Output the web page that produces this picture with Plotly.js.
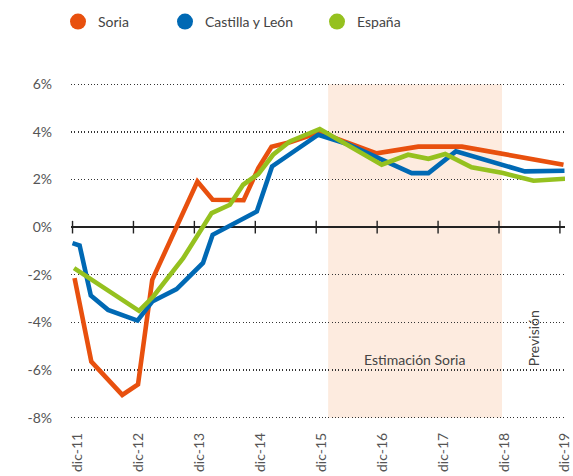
<!DOCTYPE html>
<html><head><meta charset="utf-8">
<script src="https://cdn.plot.ly/plotly-3.0.1.min.js"></script>
<style>html,body{margin:0;padding:0;background:#fff}#chart{width:573px;height:476px}</style>
</head><body><div id="chart"></div>
<script>
// x values are months since December 2011
const xTickVals = [0, 12, 24, 36, 48, 60, 72, 84, 96];
const xTickText = ['dic-11', 'dic-12', 'dic-13', 'dic-14', 'dic-15', 'dic-16', 'dic-17', 'dic-18', 'dic-19'];
const yTickVals = [-8, -6, -4, -2, 0, 2, 4, 6];
const yTickText = ['-8%', '-6%', '-4%', '-2%', '0%', '2%', '4%', '6%'];

const seriesNames = ['Soria', 'Castilla y León', 'España'];
const seriesColors = ['#e8500e', '#0069b4', '#95c11f'];

const soriaX = [0.4, 3.7, 9.8, 12.9, 15.7, 24.6, 27.6, 33.7, 36.6, 39.2, 42.8, 48.7, 59.9, 68.1, 76.7, 96.7];
const soriaY = [-2.14, -5.64, -7.04, -6.6, -2.21, 1.92, 1.15, 1.13, 2.48, 3.37, 3.56, 3.98, 3.1, 3.38, 3.38, 2.62];

const clX = [0, 1.4, 3.6, 7.0, 12.8, 15.7, 20.5, 25.7, 27.6, 36.3, 39.3, 44.5, 48.4, 54, 66.8, 70.1, 75.5, 89.1, 96.9];
const clY = [-0.67, -0.77, -2.87, -3.47, -3.92, -3.12, -2.6, -1.5, -0.32, 0.66, 2.55, 3.32, 3.88, 3.5, 2.27, 2.27, 3.18, 2.34, 2.37];

const espX = [0.3, 13.1, 15.9, 21.8, 27.4, 31.0, 33.6, 36.6, 39.5, 42.8, 48.7, 60.9, 66.1, 70.1, 73.4, 78.6, 84.8, 90.8, 97];
const espY = [-1.72, -3.51, -2.91, -1.3, 0.59, 0.94, 1.78, 2.23, 3.04, 3.6, 4.12, 2.62, 3.04, 2.87, 3.07, 2.51, 2.27, 1.95, 2.03];

const estimacionStart = 50.35;
const estimacionEnd = 84.6;

const FONT = 'Lato, "Open Sans", sans-serif';
const seriesX = [soriaX, clX, espX];
const seriesY = [soriaY, clY, espY];
const legendIds = ['legend', 'legend2', 'legend3'];
const legendPx = [78, 185, 337];

const traces = [];
for (let i = 0; i < 3; i++) {
  traces.push({
    x: seriesX[i], y: seriesY[i], type: 'scatter', mode: 'lines',
    line: {color: seriesColors[i], width: 4.6, shape: 'linear'},
    showlegend: false, hoverinfo: 'skip'
  });
}
// tick marks across the zero line
traces.push({
  x: xTickVals, y: xTickVals.map(() => 0), type: 'scatter', mode: 'markers',
  marker: {symbol: 'line-ns-open', size: 9, color: '#222', line: {width: 1.4, color: '#222'}},
  showlegend: false, hoverinfo: 'skip', cliponaxis: false
});
// legend entries with round markers
for (let i = 0; i < 3; i++) {
  traces.push({
    x: [null], y: [null], type: 'scatter', mode: 'markers', name: seriesNames[i],
    marker: {symbol: 'circle', size: 16, color: seriesColors[i]},
    legend: legendIds[i], showlegend: true
  });
}

const layout = {
  width: 573, height: 476,
  margin: {l: 71, r: 8, t: 83, b: 57, pad: 0},
  paper_bgcolor: '#fff', plot_bgcolor: 'rgba(0,0,0,0)',
  font: {family: FONT, color: '#555', size: 14},
  xaxis: {
    range: [-0.3, 97], tickvals: xTickVals, ticktext: xTickText, tickangle: -90,
    showgrid: false, zeroline: false, showline: false, ticks: '',
    ticklabelstandoff: 10, ticklabelshift: 5,
    tickfont: {family: FONT, size: 14, color: '#555'}, fixedrange: true
  },
  yaxis: {
    range: [-8.05, 6.05], tickvals: yTickVals, ticktext: yTickText,
    showgrid: true, gridcolor: '#333', gridwidth: 1.3, griddash: '1px,2.3px',
    zeroline: true, zerolinecolor: '#222', zerolinewidth: 1.4,
    showline: false, ticks: '', ticklabelstandoff: 18,
    tickfont: {family: FONT, size: 14, color: '#555'}, fixedrange: true
  },
  shapes: [{
    type: 'rect', xref: 'x', yref: 'y', x0: estimacionStart, x1: estimacionEnd, y0: -8, y1: 6,
    fillcolor: 'rgb(253,235,223)', line: {width: 0}, layer: 'below'
  }],
  annotations: [
    {text: 'Estimación Soria', x: 67.4, y: -5.56, xref: 'x', yref: 'y', showarrow: false,
     font: {family: FONT, size: 14, color: '#444'}},
    {text: 'Previsión', x: 90.7, y: -4.66, xref: 'x', yref: 'y', showarrow: false, textangle: -90,
     font: {family: FONT, size: 14, color: '#444'}}
  ],
  hovermode: false
};
for (let i = 0; i < 3; i++) {
  layout[legendIds[i]] = {
    orientation: 'h', xref: 'container', yref: 'container',
    x: (legendPx[i] - 20) / 573, y: 1 - 22 / 476, xanchor: 'left', yanchor: 'middle',
    bgcolor: 'rgba(0,0,0,0)', borderwidth: 0,
    font: {family: FONT, size: 14, color: '#444'}, itemsizing: 'trace'
  };
}

Plotly.newPlot('chart', traces, layout, {displayModeBar: false, staticPlot: true});
</script>
</body></html>
